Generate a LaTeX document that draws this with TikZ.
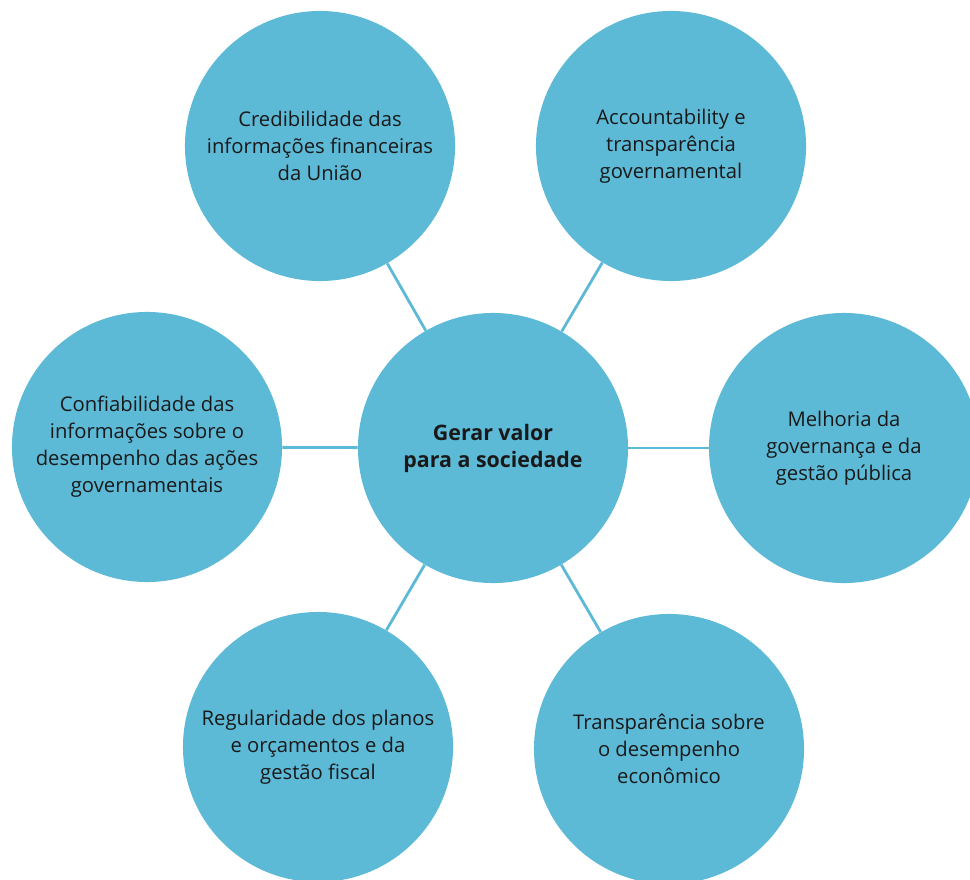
\documentclass[tikz,border=0pt]{standalone}
\usepackage{fontspec}
\setmainfont{Open Sans}
\usepackage{tikz}
\usetikzlibrary{positioning}
\definecolor{bolha}{HTML}{5DBAD7}

\begin{document}
\begin{tikzpicture}[x=0.025cm, y=-0.025cm,
  bolha/.style={circle, fill=bolha, minimum size=6.75cm, inner sep=0pt, align=center,
    font=\fontsize{14.4}{19.2}\selectfont, text=black!90},
  liga/.style={draw=bolha, line width=2pt}]
\useasboundingbox (0,0) rectangle (970,879);
\clip (0,0) rectangle (970,879);

\node[bolha, font=\fontsize{15.2}{19.2}\selectfont\bfseries] (centro) at (493,448) {Gerar valor\\para a sociedade};

\node[bolha] (cred) at (320,146) {Credibilidade das\\informações financeiras\\da União};
\node[bolha] (acc) at (671,146) {Accountability e\\transparência\\governamental};
\node[bolha] (conf) at (147,447) {Confiabilidade das\\informações sobre o\\desempenho das ações\\governamentais};
\node[bolha] (melh) at (844,448) {Melhoria da\\governança e da\\gestão pública};
\node[bolha] (reg) at (318,747) {Regularidade dos planos\\e orçamentos e da\\gestão fiscal};
\node[bolha] (transp) at (669,749) {Transparência sobre\\o desempenho\\econômico};

\draw[liga] (centro) -- (cred);
\draw[liga] (centro) -- (acc);
\draw[liga] (centro) -- (conf);
\draw[liga] (centro) -- (melh);
\draw[liga] (centro) -- (reg);
\draw[liga] (centro) -- (transp);

\end{tikzpicture}
\end{document}
